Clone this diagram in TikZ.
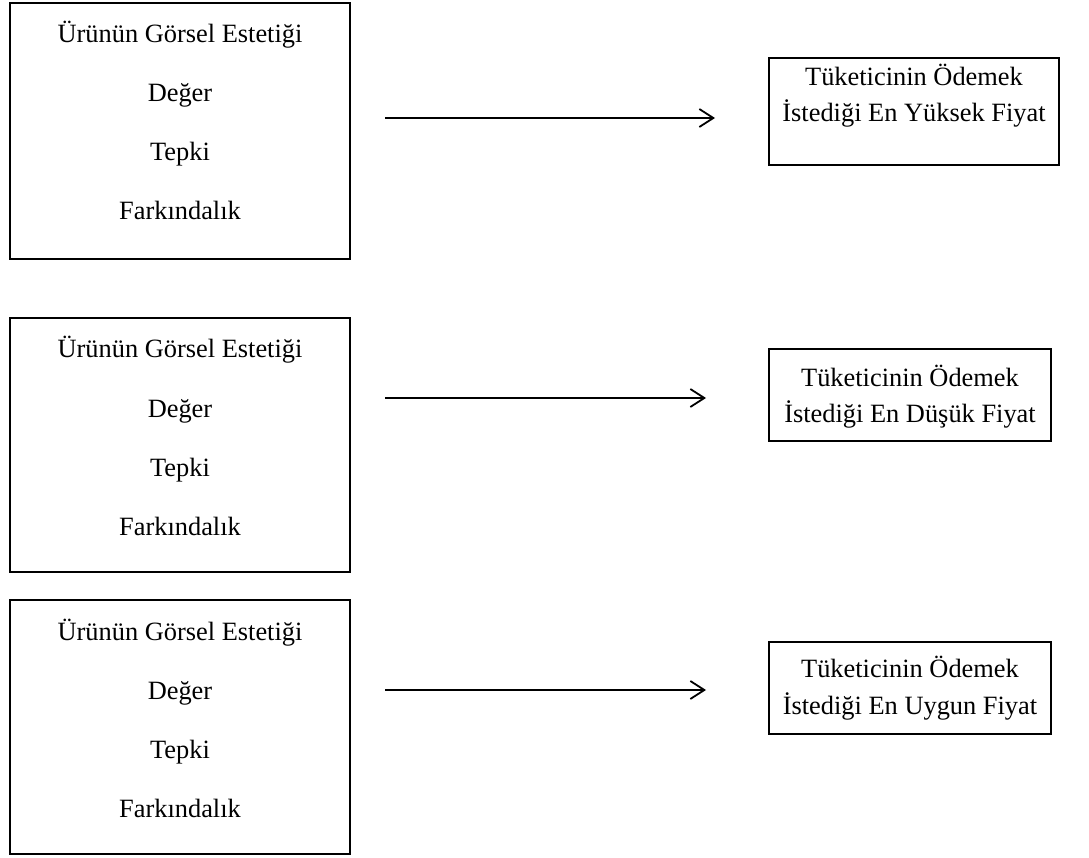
\documentclass[tikz,border=0pt]{standalone}
\usepackage{fontspec}
\setmainfont{Liberation Serif}
\usetikzlibrary{arrows.meta}
\tikzset{
  frame/.style={draw, line width=1.6pt, inner sep=0pt},
  lbl/.style={anchor=base, inner sep=0pt, font=\fontsize{26.4}{30}\selectfont},
  link/.style={line width=1.8pt, -{Straight Barb[length=14pt, width=18pt, line width=1.8pt]}},
}
\begin{document}
\begin{tikzpicture}[x=1pt,y=-1pt]
\useasboundingbox (0,0) rectangle (1089,858);

% left frames: product aesthetics factors
\node[frame, minimum width=340pt, minimum height=256pt] (L1) at (180,131) {};
\node[frame, minimum width=340pt, minimum height=254pt] (L2) at (180,445) {};
\node[frame, minimum width=340pt, minimum height=254pt] (L3) at (180,727) {};

\foreach \b/\y in {L1/43, L2/358, L3/640} {
  \node[lbl] (\b a) at (180,\y) {Ürünün Görsel Estetiği};
  \node[lbl] (\b b) at (180,\y+59) {Değer};
  \node[lbl] (\b c) at (180,\y+118) {Tepki};
  \node[lbl] (\b d) at (180,\y+177) {Farkındalık};
}

% right frames: price outcomes
\node[frame, minimum width=290pt, minimum height=107pt] (R1) at (914,111.5) {};
\node[frame, minimum width=282pt, minimum height=92pt] (R2) at (910,395) {};
\node[frame, minimum width=282pt, minimum height=92pt] (R3) at (910,688) {};

\node[lbl] (R1a) at (914,86) {Tüketicinin Ödemek};
\node[lbl] (R1b) at (914,122) {İstediği En Yüksek Fiyat};
\node[lbl] (R2a) at (910,386) {Tüketicinin Ödemek};
\node[lbl] (R2b) at (910,422) {İstediği En Düşük Fiyat};
\node[lbl] (R3a) at (910,677) {Tüketicinin Ödemek};
\node[lbl] (R3b) at (910,714) {İstediği En Uygun Fiyat};

% connecting arrows
\coordinate (A1s) at (385,118);
\coordinate (A1e) at (715,118);
\coordinate (A2s) at (385,398);
\coordinate (A2e) at (706,398);
\coordinate (A3s) at (385,690);
\coordinate (A3e) at (706,690);
\draw[link] (A1s) -- (A1e);
\draw[link] (A2s) -- (A2e);
\draw[link] (A3s) -- (A3e);
\end{tikzpicture}
\end{document}
